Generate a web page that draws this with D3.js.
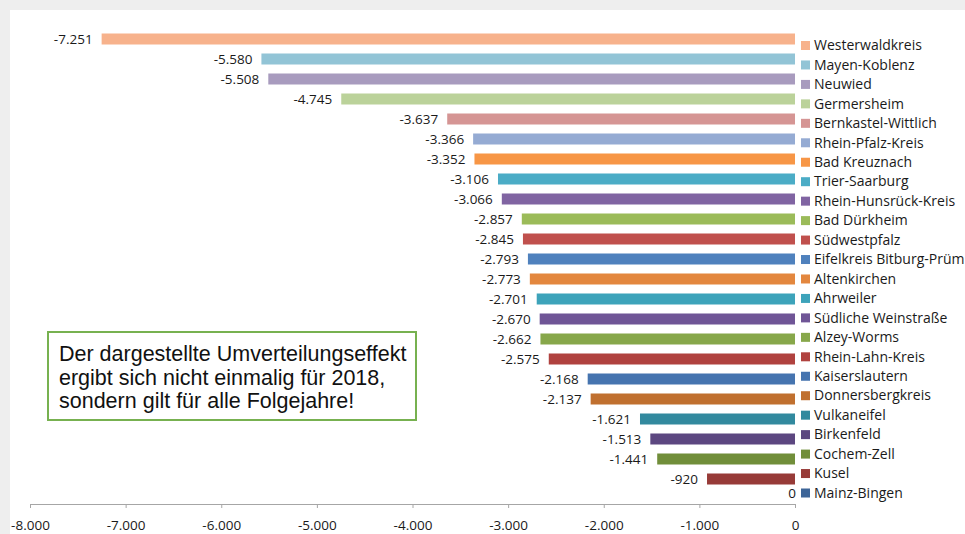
<!DOCTYPE html>
<html>
<head>
<meta charset="utf-8">
<script src="https://cdn.jsdelivr.net/npm/d3@7"></script>
<style>
  html, body { margin: 0; padding: 0; background: #ffffff; }
  svg { display: block; }
</style>
</head>
<body>
<svg id="chart" width="965" height="534"></svg>
<script>
// ---- data ----
const categories = [
  "Westerwaldkreis", "Mayen-Koblenz", "Neuwied", "Germersheim", "Bernkastel-Wittlich",
  "Rhein-Pfalz-Kreis", "Bad Kreuznach", "Trier-Saarburg", "Rhein-Hunsrück-Kreis",
  "Bad Dürkheim", "Südwestpfalz", "Eifelkreis Bitburg-Prüm", "Altenkirchen", "Ahrweiler",
  "Südliche Weinstraße", "Alzey-Worms", "Rhein-Lahn-Kreis", "Kaiserslautern",
  "Donnersbergkreis", "Vulkaneifel", "Birkenfeld", "Cochem-Zell", "Kusel", "Mainz-Bingen"
];
const values = [
  -7251, -5580, -5508, -4745, -3637, -3366, -3352, -3106, -3066, -2857, -2845, -2793,
  -2773, -2701, -2670, -2662, -2575, -2168, -2137, -1621, -1513, -1441, -920, 0
];
const xTicks = [-8000, -7000, -6000, -5000, -4000, -3000, -2000, -1000, 0];
const palette = [
  "#F7B28C", "#92C4D6", "#A89BBE", "#BBD29A", "#D59594", "#95ABD3",
  "#F79646", "#4BACC6", "#8064A2", "#9BBB59", "#C0504D", "#4F81BD",
  "#E3873E", "#3DA3BA", "#6F5596", "#87A74A", "#B0423F", "#4674AF",
  "#C0702F", "#32899E", "#5C4780", "#718E3A", "#973B38", "#3D6598"
];
const noteLines = [
  "Der dargestellte Umverteilungseffekt",
  "ergibt sich nicht einmalig für 2018,",
  "sondern gilt für alle Folgejahre!"
];

// ---- setup ----
const svg = d3.select("#chart");
const W = 965, H = 534;
const de = d3.formatLocale({ decimal: ",", thousands: ".", grouping: [3], currency: ["", " €"], minus: "-" });
const fmt = de.format(",d");

// background panel
svg.append("rect").attr("x", 0).attr("y", 0).attr("width", W).attr("height", H).attr("fill", "#eeeeee");
svg.append("rect").attr("x", 10).attr("y", 10).attr("width", W - 10).attr("height", H - 10).attr("fill", "#ffffff");

const x = d3.scaleLinear().domain([-8000, 0]).range([30, 795]);
const y = d3.scaleBand().domain(categories).range([29, 509]).paddingInner(0.45).paddingOuter(0.225);
const yLeg = d3.scalePoint().domain(categories).range([45.5, 493]);
const color = d3.scaleOrdinal().domain(categories).range(palette);

const data = categories.map((c, i) => ({ name: c, value: values[i] }));

// bars
svg.append("g").selectAll("rect").data(data).join("rect")
  .attr("x", d => x(d.value))
  .attr("y", d => y(d.name))
  .attr("width", d => x(0) - x(d.value))
  .attr("height", y.bandwidth())
  .attr("fill", d => color(d.name));

// data labels
svg.append("g").selectAll("text").data(data).join("text")
  .attr("x", d => d.value === 0 ? x(0) + 1 : x(d.value) - 9)
  .attr("y", d => d.value === 0 ? y(d.name) + 1 : y(d.name) + y.bandwidth() / 2 + 1)
  .attr("text-anchor", "end")
  .attr("dominant-baseline", "middle")
  .attr("font-family", "'Open Sans', sans-serif")
  .attr("font-size", "13.5px")
  .attr("fill", "#1a1a1a")
  .text(d => fmt(d.value));

// x axis
const axis = svg.append("g")
  .attr("transform", "translate(0,504)")
  .call(d3.axisBottom(x).tickValues(xTicks).tickFormat(fmt).tickSizeOuter(0).tickSize(4).tickPadding(12));
axis.select(".domain").attr("stroke", "#a6a6a6");
axis.selectAll(".tick line").attr("stroke", "#a6a6a6");
axis.selectAll(".tick text")
  .attr("font-family", "'Open Sans', sans-serif")
  .attr("font-size", "13.5px")
  .attr("fill", "#1a1a1a");

// legend
const leg = svg.append("g").selectAll("g").data(data).join("g")
  .attr("transform", d => `translate(801,${yLeg(d.name)})`);
leg.append("rect").attr("x", 0).attr("y", -4.5).attr("width", 9).attr("height", 9)
  .attr("fill", d => color(d.name));
leg.append("text").attr("x", 13).attr("y", 1)
  .attr("dominant-baseline", "middle")
  .attr("font-family", "'Open Sans', sans-serif")
  .attr("font-size", "14px")
  .attr("fill", "#1a1a1a")
  .text(d => d.name);

// note box
svg.append("rect").attr("x", 48).attr("y", 332).attr("width", 368).attr("height", 88)
  .attr("fill", "#ffffff").attr("stroke", "#77B150").attr("stroke-width", 2);
svg.append("g").selectAll("text").data(noteLines).join("text")
  .attr("x", 59)
  .attr("y", (d, i) => 361 + i * 23.5)
  .attr("font-family", "'Liberation Sans', Arial, sans-serif")
  .attr("font-size", "21.5px")
  .attr("fill", "#111111")
  .text(d => d);
</script>
</body>
</html>
